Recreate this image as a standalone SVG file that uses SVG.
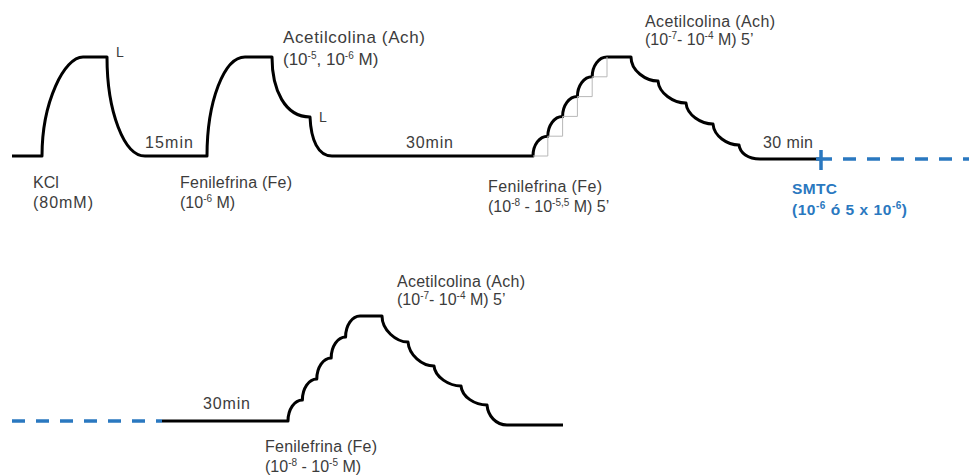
<svg xmlns="http://www.w3.org/2000/svg" width="969" height="475" viewBox="0 0 969 475">
<style>
.trace{fill:none;stroke:#000;stroke-width:3;stroke-linejoin:round;stroke-linecap:butt}
.grid{fill:none;stroke:#b8b8b8;stroke-width:1}
.blue{fill:none;stroke:#2a78c0;stroke-width:3.5}
.dash{fill:none;stroke:#2a78c0;stroke-width:3.5;stroke-dasharray:13 11}
text{font-family:"Liberation Sans",Arial,sans-serif;font-size:16px;fill:#3c3c3c}
.big{font-size:17px}
.sm{font-size:14px}
.bl{fill:#2a78c0;font-weight:bold;font-size:15.5px}
.sup{font-size:10px}
</style>
<g id="connectors">
  <!-- row 1 trace -->
  <path class="trace" d="M12,156 H42 C42,101.5 64.5,57 83,57 H107 C107,111.5 124,156 145,156 H207 C207,101.5 224,57 245,57 H272 C272,90 285,117 310,117 C311,140 318,156 332,156 H533
    C533,145 539.5,136.2 547.8,136.2 C547.8,125.5 554.3,116.4 562.6,116.4 C562.6,105.5 569.1,96.6 577.4,96.6 C577.4,85.7 583.9,76.8 592.2,76.8 C592.2,65.9 598.7,57 607,57 H631
    C631,71 646,81 658,81 C659,93 673,103 686,103 C687,115 701,124 713,124 C714,136 727,145 739,145 C740,153 748,159 760,159 H821"/>
  <!-- grey step boxes -->
  <path class="grid" d="M533,156 H547.8 V136.2 M547.8,136.2 H562.6 V116.4 M562.6,116.4 H577.4 V96.6 M577.4,96.6 H592.2 V76.8 M592.2,76.8 H607 V57"/>
  <!-- SMTC marker and dashed continuation -->
  <path class="blue" d="M821,150 V170 M816,159 H832"/>
  <path class="dash" d="M843,159 H969"/>
  <!-- row 2 -->
  <path class="dash" d="M12,421 H162"/>
  <path class="trace" d="M162,421 H288
    C288,409.5 294.5,400 302.4,400 C302.4,388.5 308.9,379 316.8,379 C316.8,367.5 323.3,358 331.2,358 C331.2,346.5 337.7,337 345.6,337 C345.6,325.5 352.1,316 360,316 H382
    C382,330 396,342 408,342 C409,355 422,366 434,366 C435,377 449,386 461,386 C462,397 475,405 487,405 C488,416 496,425 507,425 H563"/>
</g>
<g id="row1-labels">
  <text x="116" y="57" class="sm">L</text>
  <text x="319" y="122" class="sm">L</text>
  <text x="33" y="188">KCl</text>
  <text x="33" y="208" textLength="60">(80mM)</text>
  <text x="145" y="148" textLength="48">15min</text>
  <text x="180" y="188" textLength="112">Fenilefrina (Fe)</text>
  <text x="180" y="208">(10<tspan class="sup" dy="-6">-6</tspan><tspan dy="6"> M)</tspan></text>
  <text x="283" y="43" class="big" textLength="142">Acetilcolina (Ach)</text>
  <text x="283" y="65" class="big">(10<tspan class="sup" dy="-6">-5</tspan><tspan dy="6">, 10</tspan><tspan class="sup" dy="-6">-6</tspan><tspan dy="6"> M)</tspan></text>
  <text x="406" y="148" textLength="47">30min</text>
  <text x="488" y="192" textLength="114">Fenilefrina (Fe)</text>
  <text x="488" y="212">(10<tspan class="sup" dy="-6">-8</tspan><tspan dy="6"> - 10</tspan><tspan class="sup" dy="-6">-5,5</tspan><tspan dy="6"> M) 5’</tspan></text>
  <text x="645" y="27" textLength="130">Acetilcolina (Ach)</text>
  <text x="645" y="45">(10<tspan class="sup" dy="-6">-7</tspan><tspan dy="6">- 10</tspan><tspan class="sup" dy="-6">-4</tspan><tspan dy="6"> M) 5’</tspan></text>
  <text x="763" y="148" textLength="50">30 min</text>
</g>
<g id="smtc">
  <text x="792" y="194" class="bl" textLength="45">SMTC</text>
  <text x="792" y="215" class="bl" textLength="115">(10<tspan class="sup" dy="-6">-6</tspan><tspan dy="6"> ó 5 x 10</tspan><tspan class="sup" dy="-6">-6</tspan><tspan dy="6">)</tspan></text>
</g>
<g id="row2-labels">
  <text x="203" y="409" textLength="47">30min</text>
  <text x="265" y="452" textLength="112">Fenilefrina (Fe)</text>
  <text x="265" y="472">(10<tspan class="sup" dy="-6">-8</tspan><tspan dy="6"> - 10</tspan><tspan class="sup" dy="-6">-5</tspan><tspan dy="6"> M)</tspan></text>
  <text x="397" y="287" textLength="128">Acetilcolina (Ach)</text>
  <text x="397" y="305">(10<tspan class="sup" dy="-6">-7</tspan><tspan dy="6">- 10</tspan><tspan class="sup" dy="-6">-4</tspan><tspan dy="6"> M) 5’</tspan></text>
</g>
</svg>
